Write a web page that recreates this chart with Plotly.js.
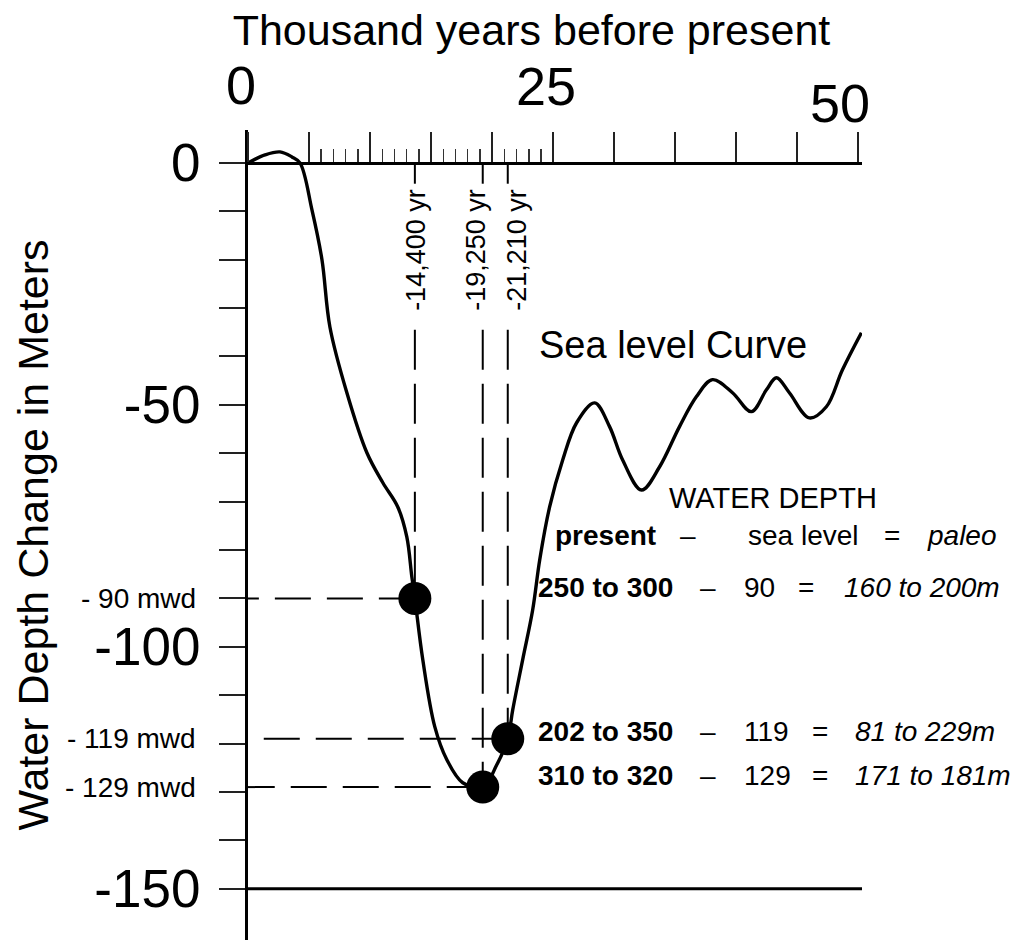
<!DOCTYPE html>
<html>
<head>
<meta charset="utf-8">
<script src="https://cdn.plot.ly/plotly-3.0.1.min.js"></script>
<style>html,body{margin:0;padding:0;background:#fff;}#chart{width:1017px;height:941px;}</style>
</head>
<body>
<div id="chart"></div>
<script>
// ---- data ----
const ageKyr = [0, 1.39, 2.62, 3.6, 4.26, 5.24, 6.06, 6.71, 8.10, 9.74, 11.05, 12.27, 13.01, 13.42, 13.67,
  14.32, 15.30, 16.28, 17.59, 19.23, 20.38, 21.28, 21.69, 22.50, 23.32, 23.90, 24.71, 25.78, 26.92, 28.40,
  29.62, 30.69, 32.24, 33.72, 35.35, 36.74, 38.05, 39.69, 41.24, 42.47, 43.29, 44.35, 45.99, 47.38, 48.69, 50.25];
const seaLevel = [0, 1.65, 2.27, 1.24, 0, -9.7, -20.0, -33.9, -47.5, -59.9, -66.1, -71.1, -77.3, -85.5, -90,
  -102.7, -116.5, -123.3, -128.1, -129, -124.4, -119, -113.0, -102.7, -92.4, -82.0, -71.1, -61.4, -53.7, -49.6,
  -54.5, -61.4, -67.6, -62.8, -54.5, -48.3, -44.8, -47.5, -51.4, -46.9, -44.4, -47.5, -52.7, -50.4, -42.8, -35.1];

const markerAge = [13.67, 19.23, 21.28];
const markerDepth = [-90, -129, -119];
const markerLabel = ['-14,400 yr', '-19,250 yr', '-21,210 yr'];

const xMajorTicks = [0, 5, 10, 15, 20, 25, 30, 35, 40, 45, 50];
const xMinorTicks = [6, 7, 8, 9, 11, 12, 13, 14, 16, 17, 18, 19, 21, 22, 23, 24];
const xLabelTicks = [0, 25, 50];
const yTicks = [0, -10, -20, -30, -40, -50, -60, -70, -80, -90, -100, -110, -120, -130, -140, -150];
const yLabelTicks = [0, -50, -100, -150];

const tablePresent = ['250 to 300', '202 to 350', '310 to 320'];
const tableSeaLevel = [90, 119, 129];
const tablePaleo = ['160 to 200m', '81 to 229m', '171 to 181m'];

// ---- layout constants ----
const FONT = 'Liberation Sans, Arial, Helvetica, sans-serif';
const yRange = [-160.6, 6.8];
const xRange = [0, 50.3];
const rowY = [-87.8, -117.6, -126.5];
const eqX = [45.7, 46.86, 46.86];
const paleoX = [48.66, 49.56, 49.56];
const labelShiftX = [1, -7, 9];
const xLabelShift = [[-7, 78], [-7, 77], [-18, 60]];
const px = v => (v - xRange[0]) / (xRange[1] - xRange[0]);   // axis value -> paper fraction

const curve = {
  x: ageKyr, y: seaLevel, type: 'scatter', mode: 'lines',
  line: {color: '#000', width: 3.4, shape: 'spline', smoothing: 1},
  hoverinfo: 'skip', showlegend: false
};
const dots = {
  x: markerAge, y: markerDepth, type: 'scatter', mode: 'markers',
  marker: {color: '#000', size: 33},
  cliponaxis: false, showlegend: false
};

const shapes = [];
markerAge.forEach((a, i) => {
  shapes.push({type: 'line', xref: 'x', yref: 'y', x0: a, x1: a, y0: 0, y1: -4.3,
    line: {color: '#000', width: 2}, layer: 'below'});
  shapes.push({type: 'line', xref: 'x', yref: 'y', x0: a, x1: a, y0: -34.5, y1: markerDepth[i],
    line: {color: '#000', width: 2, dash: '40px,14px'}, layer: 'below'});
  shapes.push({type: 'line', xref: 'x', yref: 'y', x0: a, x1: 0, y0: markerDepth[i], y1: markerDepth[i],
    line: {color: '#000', width: 2, dash: '36px,16px'}, layer: 'below'});
});
shapes.push({type: 'line', xref: 'x', yref: 'y', x0: 0, x1: xRange[1], y0: -150, y1: -150,
  line: {color: '#000', width: 3}, layer: 'below'});

const ann = [];
xLabelTicks.forEach((v, i) => {
  ann.push({x: v, y: 0, xref: 'x', yref: 'y', text: String(v), showarrow: false,
    xanchor: 'center', yanchor: 'middle', xshift: xLabelShift[i][0], yshift: xLabelShift[i][1],
    font: {family: FONT, size: 54, color: '#000'}});
});
markerAge.forEach((a, i) => {
  ann.push({x: a, y: -18, xref: 'x', yref: 'y', text: markerLabel[i], textangle: -90, showarrow: false,
    xanchor: 'center', yanchor: 'middle', xshift: labelShiftX[i],
    font: {family: FONT, size: 27, color: '#000'}});
  ann.push({x: 0, y: markerDepth[i], xref: 'x', yref: 'y', text: '- ' + Math.abs(markerDepth[i]) + ' mwd',
    showarrow: false, xanchor: 'right', yanchor: 'middle', xshift: -50,
    font: {family: FONT, size: 28, color: '#000'}});
});
ann.push({x: px(23.68), y: -37.6, xref: 'paper', yref: 'y', text: 'Sea level Curve', showarrow: false,
  xanchor: 'left', yanchor: 'middle', font: {family: FONT, size: 38, color: '#000'}});
ann.push({x: px(34.3), y: -69.2, xref: 'paper', yref: 'y', text: 'WATER DEPTH', showarrow: false,
  xanchor: 'left', yanchor: 'middle', font: {family: FONT, size: 29, color: '#000'}});
const hdr = [
  {x: 24.99, t: '<b>present</b>', a: 'left'},
  {x: 36.05, t: '–', a: 'center'},
  {x: 40.8, t: 'sea level', a: 'left'},
  {x: 52.76, t: '=', a: 'center'},
  {x: 55.46, t: '<i>paleo</i>', a: 'left'}
];
hdr.forEach(h => ann.push({x: px(h.x), y: -76.9, xref: 'paper', yref: 'y', text: h.t, showarrow: false,
  xanchor: h.a, yanchor: 'middle', font: {family: FONT, size: 28, color: '#000'}}));
tablePresent.forEach((p, i) => {
  const f = {family: FONT, size: 28, color: '#000'};
  const base = {yref: 'y', xref: 'paper', y: rowY[i], showarrow: false, yanchor: 'middle', font: f};
  ann.push(Object.assign({}, base, {x: px(23.6), text: '<b>' + p + '</b>', xanchor: 'left'}));
  ann.push(Object.assign({}, base, {x: px(37.68), text: '–', xanchor: 'center'}));
  ann.push(Object.assign({}, base, {x: px(40.47), text: String(tableSeaLevel[i]), xanchor: 'left'}));
  ann.push(Object.assign({}, base, {x: px(eqX[i]), text: '=', xanchor: 'center'}));
  ann.push(Object.assign({}, base, {x: px(paleoX[i]), text: '<i>' + tablePaleo[i] + '</i>', xanchor: 'left'}));
});

const xPos = (0 - yRange[0]) / (yRange[1] - yRange[0]);

const layout = {
  width: 1017, height: 941,
  margin: {l: 248, r: 155, t: 130, b: 1, pad: 0},
  paper_bgcolor: '#fff', plot_bgcolor: '#fff',
  font: {family: FONT, color: '#000'},
  showlegend: false,
  title: {text: 'Thousand years before present', font: {family: FONT, size: 43, color: '#000'},
    xref: 'container', x: 0.5226, xanchor: 'center', yref: 'container', y: 0.984, yanchor: 'top'},
  xaxis: {
    range: xRange, anchor: 'free', position: xPos, side: 'top',
    showline: true, linecolor: '#000', linewidth: 3,
    showgrid: false, zeroline: false,
    tickmode: 'array', tickvals: xMajorTicks, ticks: 'outside', ticklen: 30, tickwidth: 2, tickcolor: '#222',
    showticklabels: false,
    minor: {tickmode: 'array', tickvals: xMinorTicks, ticks: 'outside', ticklen: 13, tickwidth: 1.5, tickcolor: '#333', showgrid: false}
  },
  yaxis: {
    range: yRange, showline: true, linecolor: '#000', linewidth: 3,
    showgrid: false, zeroline: false,
    tickmode: 'array', tickvals: yTicks,
    ticktext: yTicks.map(v => yLabelTicks.includes(v) ? String(v) : ''),
    ticks: 'outside', ticklen: 26, tickwidth: 2, tickcolor: '#222',
    ticklabelstandoff: 8,
    tickfont: {family: FONT, size: 53, color: '#000'},
    title: {text: 'Water Depth Change in Meters', font: {family: FONT, size: 43, color: '#000'}, standoff: 33}
  },
  shapes: shapes,
  annotations: ann
};

Plotly.newPlot('chart', [curve, dots], layout, {staticPlot: true, displayModeBar: false});
</script>
</body>
</html>
